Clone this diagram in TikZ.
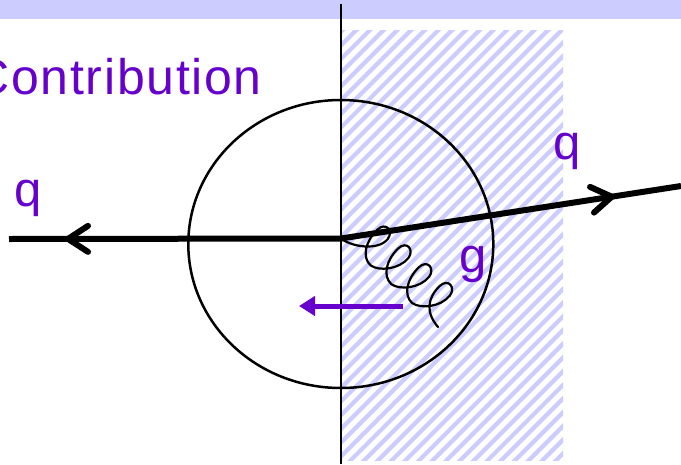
\documentclass[tikz,border=0pt]{standalone}
\usepackage{fontspec}
\setmainfont{Liberation Sans}
\newfontfamily\titlefont[LetterSpace=3.4]{Liberation Sans}
\usetikzlibrary{decorations.markings,arrows.meta}
\definecolor{bandc}{RGB}{204,204,255}
\definecolor{hatchc}{RGB}{204,204,255}
\definecolor{lbl}{RGB}{102,0,204}
\tikzset{
  lab/.style={text=lbl, inner sep=0pt, font=\fontsize{49}{58}\selectfont},
  quark/.style={line width=6pt, postaction={decorate, decoration={markings,
     mark=at position #1 with {\draw[line width=6pt, line cap=round, line join=round]
       (-20pt,13pt) -- (0pt,0pt) -- (-20pt,-13pt);}}}},
  gluon/.style={line width=2.2pt, line join=round, line cap=round},
  momarrow/.style={lbl, line width=5pt, -{Triangle[length=16pt,width=19pt]}},
}
\begin{document}
\begin{tikzpicture}[x=1pt,y=-1pt]
\useasboundingbox (0,0) rectangle (681,464);
% top band
\fill[bandc] (0,0) rectangle (681,18.5);
% hatched region
\begin{scope}
  \clip (341,30) rectangle (563,460);
  \foreach \i in {-34,...,18}
    \draw[hatchc, line width=4.2pt] ({341+\i*13.7},470) -- ++(500,-500);
\end{scope}
% circle
\draw[line width=2.5pt] (340.8,244) ellipse [x radius=152.5, y radius=144];
% vertical cut line
\coordinate (ctop) at (341,4);
\coordinate (cbot) at (341,464);
\draw[line width=2.5pt] (ctop) -- (cbot);
% vertex and end points
\coordinate (v) at (341,238.5);
\coordinate (qin) at (9,239);
\coordinate (qout) at (681,186);
\coordinate (gend) at (438,327);
\draw[quark=273pt] (v) -- (qin);
\draw[quark=274pt] (v) -- (qout);
% gluon, drawn in a frame along v -> gend (loops on the upper right side)
\begin{scope}[shift={(v)}, rotate=-42.2]
\draw[gluon] (v)
  .. controls (14,-1) and (36,-16) .. (35,-31)
  .. controls (34,-41) and (22,-43) .. (21,-31)
  .. controls (20,-14) and (28,0) .. (40,0)
  \foreach \A in {54,82} {
  .. controls ({\A-4},-1) and ({\A+10},-16) .. ({\A+9},-31)
  .. controls ({\A+8},-41) and ({\A-4},-43) .. ({\A-5},-31)
  .. controls ({\A-6},-14) and ({\A+2},0) .. ({\A+14},0)
  }
  .. controls (106,-1) and (120,-16) .. (119,-31)
  .. controls (118,-41) and (106,-43) .. (105,-31)
  .. controls (104,-14) and (112,-2) .. (gend);
\end{scope}
% momentum arrow
\coordinate (pa) at (403,306);
\coordinate (pb) at (299,306);
\draw[momarrow] (pa) -- (pb);
% labels
\node[lab, anchor=base east, font=\titlefont\fontsize{50}{60}\selectfont] (title) at (262,94) {Contribution};
\node[lab, anchor=base west] (q1) at (14,206) {q};
\node[lab, anchor=base west] (q2) at (553,159) {q};
\node[lab, anchor=base west] (g) at (459,272) {g};
\end{tikzpicture}
\end{document}
